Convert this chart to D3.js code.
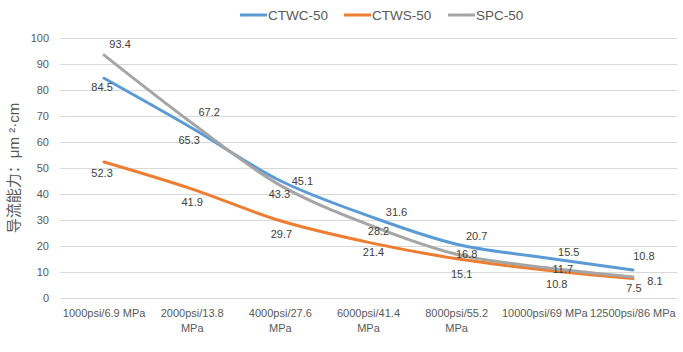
<!DOCTYPE html>
<html>
<head>
<meta charset="utf-8">
<script src="https://cdn.jsdelivr.net/npm/d3@7"></script>
<style>
  body { margin: 0; background: #fff; }
  text { font-family: "Liberation Sans", Arial, sans-serif; }
</style>
</head>
<body>
<div id="chart"></div>
<script>
/***** Data *****/
var categories = [
  ["1000psi/6.9 MPa"],
  ["2000psi/13.8", "MPa"],
  ["4000psi/27.6", "MPa"],
  ["6000psi/41.4", "MPa"],
  ["8000psi/55.2", "MPa"],
  ["10000psi/69 MPa"],
  ["12500psi/86 MPa"]
];
var seriesNames = ["CTWC-50", "CTWS-50", "SPC-50"];
var ctwc = [84.5, 65.3, 45.1, 31.6, 20.7, 15.5, 10.8];
var ctws = [52.3, 41.9, 29.7, 21.4, 15.1, 10.8, 7.5];
var spc = [93.4, 67.2, 43.3, 28.2, 16.8, 11.7, 8.1];
var yTicks = [0, 10, 20, 30, 40, 50, 60, 70, 80, 90, 100];

/***** Configuration *****/
var colors = ["#5B9BD5", "#ED7D31", "#A5A5A5"];
// label offsets (dx, dy) from each point, like Excel's placement
var labelOffsets = [
  [[-2, 9], [-3, 12], [22, 0], [28, -4], [20, -8], [24, -6], [11, -14]],
  [[-2, 11], [0, 13], [1, 13], [5, 10], [5, 15], [12, 14], [1, 10]],
  [[16, -11], [17, -11], [-1, 9], [10, 6], [10, 0], [18, 2], [22, 4]]
];

var width = 683, height = 352;
var margin = {top: 38, right: 6, bottom: 54, left: 60};

var svg = d3.select("#chart").append("svg")
  .attr("width", width)
  .attr("height", height);

var x = d3.scaleBand()
  .domain(d3.range(categories.length))
  .range([margin.left, width - margin.right]);

var y = d3.scaleLinear()
  .domain([0, 100])
  .range([height - margin.bottom, margin.top]);

// gridlines
svg.append("g")
  .selectAll("line")
  .data(yTicks)
  .join("line")
  .attr("x1", margin.left)
  .attr("x2", width - margin.right)
  .attr("y1", function(d) { return y(d) + 0.5; })
  .attr("y2", function(d) { return y(d) + 0.5; })
  .attr("stroke", "#d9d9d9")
  .attr("stroke-width", 1);

// y axis labels
svg.append("g")
  .selectAll("text")
  .data(yTicks)
  .join("text")
  .attr("x", 49)
  .attr("y", function(d) { return y(d); })
  .attr("dy", "0.35em")
  .attr("text-anchor", "end")
  .attr("font-size", 11)
  .attr("fill", "#595959")
  .text(function(d) { return d; });

// x axis labels
var xLabels = svg.append("g")
  .selectAll("text")
  .data(categories)
  .join("text")
  .attr("text-anchor", "middle")
  .attr("font-size", 11)
  .attr("fill", "#595959")
  .attr("transform", function(d, i) {
    return "translate(" + (x(i) + x.bandwidth() / 2) + "," + 317 + ")";
  });
xLabels.selectAll("tspan")
  .data(function(d) { return d; })
  .join("tspan")
  .attr("x", 0)
  .attr("dy", function(d, i) { return i === 0 ? 0 : 15; })
  .text(function(d) { return d; });

// y axis title
var yTitle = svg.append("text")
  .attr("transform", "translate(19," + 168 + ") rotate(-90)")
  .attr("text-anchor", "middle")
  .attr("font-size", 15)
  .attr("fill", "#595959");
yTitle.append("tspan")
  .style("font-family", "'Noto Sans CJK SC', sans-serif")
  .text("导流能力：");
yTitle.append("tspan")
  .text("μm ²·cm");

// lines
var allSeries = [ctwc, ctws, spc];
var line = d3.line()
  .x(function(d, i) { return x(i) + x.bandwidth() / 2; })
  .y(function(d) { return y(d); })
  .curve(d3.curveCatmullRom.alpha(0.5));

svg.append("g")
  .selectAll("path")
  .data(allSeries)
  .join("path")
  .attr("d", function(d) { return line(d); })
  .attr("fill", "none")
  .attr("stroke", function(d, i) { return colors[i]; })
  .attr("stroke-width", 3)
  .attr("stroke-linecap", "round");

// data labels
allSeries.forEach(function(s, si) {
  svg.append("g")
    .selectAll("text")
    .data(s)
    .join("text")
    .attr("x", function(d, i) { return x(i) + x.bandwidth() / 2 + labelOffsets[si][i][0]; })
    .attr("y", function(d, i) { return y(d) + labelOffsets[si][i][1]; })
    .attr("dy", "0.35em")
    .attr("text-anchor", "middle")
    .attr("font-size", 11)
    .attr("fill", "#404040")
    .text(function(d) { return d3.format(".1f")(d); });
});

// legend
var legendX = [240, 344, 448];
var legend = svg.append("g")
  .selectAll("g")
  .data(seriesNames)
  .join("g")
  .attr("transform", function(d, i) { return "translate(" + legendX[i] + ",15)"; });
legend.append("line")
  .attr("x1", 0).attr("x2", 27)
  .attr("stroke", function(d, i) { return colors[i]; })
  .attr("stroke-width", 3);
legend.append("text")
  .attr("x", 28)
  .attr("dy", "0.35em")
  .attr("font-size", 13.5)
  .attr("fill", "#595959")
  .text(function(d) { return d; });
</script>
</body>
</html>
